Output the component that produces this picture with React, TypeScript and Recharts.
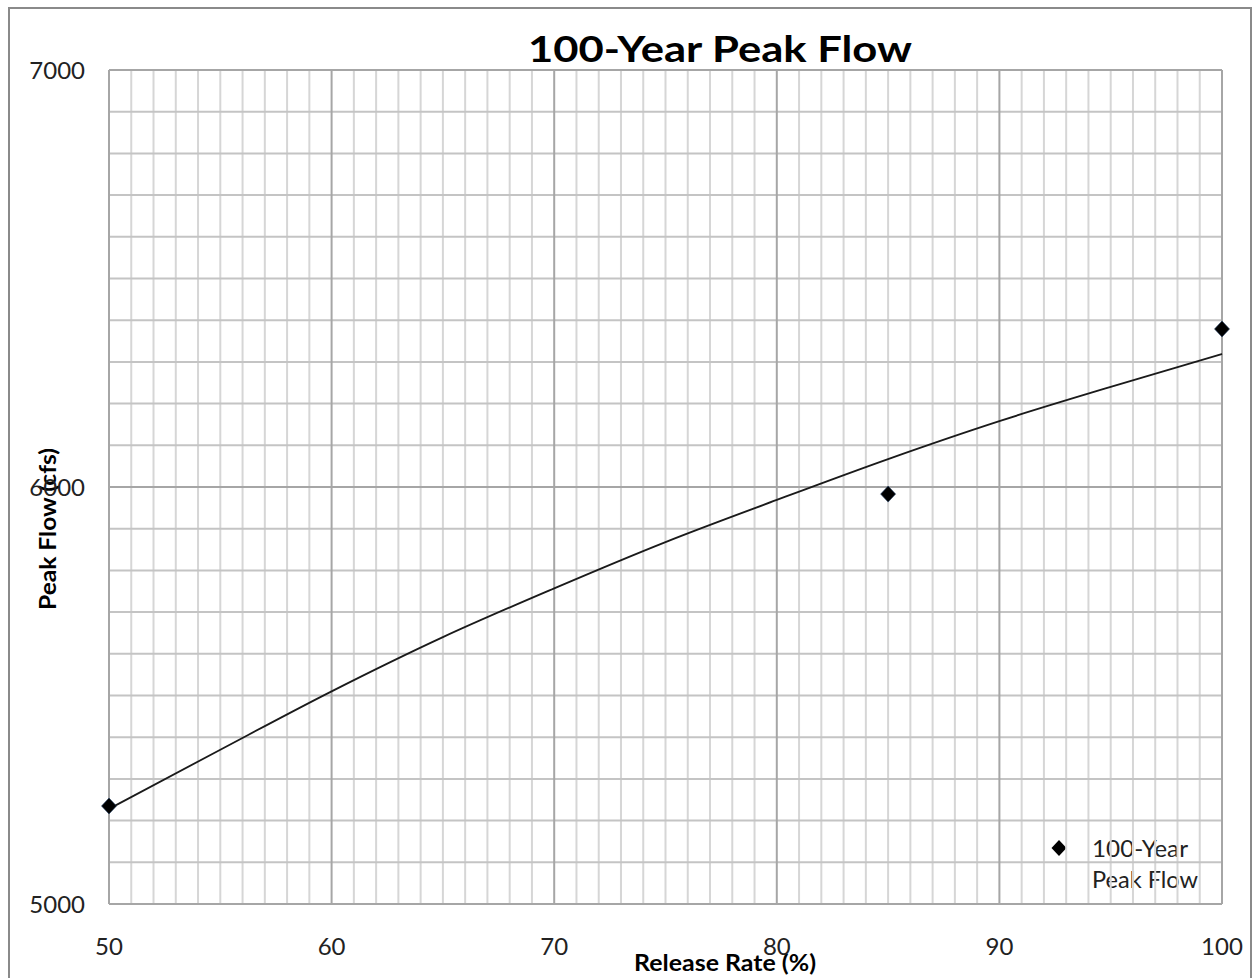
import React from 'react';
import { ComposedChart, XAxis, YAxis, Line, Scatter, ReferenceLine } from 'recharts';

// observed peak flows (cfs) at each release rate (%)
const releaseRate = [50, 85, 100];
const peakFlow = [5235, 5983, 6379];

// trendline
const trendRate = [50, 55, 60, 65, 70, 75, 80, 85, 90, 95, 100];
const trendFlow = [5228, 5370, 5510, 5640, 5757, 5868, 5969, 6067, 6158, 6240, 6319];

const xTicks = [50, 60, 70, 80, 90, 100];
const yTicks = [5000, 6000, 7000];

// grid every 1 % and every 100 cfs
const minorX = Array.from({ length: 51 }, (_, i) => 50 + i).filter((v) => v % 10 !== 0);
const minorY = Array.from({ length: 21 }, (_, i) => 5000 + i * 100).filter((v) => v % 1000 !== 0);

const pointData = releaseRate.map((x, i) => ({ x, y: peakFlow[i] }));
const trendData = trendRate.map((x, i) => ({ x, y: trendFlow[i] }));

const FONT = 'Lato, "Open Sans", sans-serif';

const Diamond = (props: any) => {
  const { cx, cy } = props;
  if (cx == null || cy == null) return null;
  return (
    <polygon
      points={`${cx},${cy - 8} ${cx + 7.5},${cy} ${cx},${cy + 8} ${cx - 7.5},${cy}`}
      fill="#000"
      stroke="#1f3a5f"
      strokeWidth={0.6}
    />
  );
};

export default function App() {
  return (
    <div style={{ position: 'absolute', left: 0, top: 0, width: 1257, height: 978, background: '#fff', overflow: 'hidden' }}>
      <div
        style={{
          position: 'absolute',
          left: 8,
          top: 7,
          width: 1244,
          height: 990,
          border: '2px solid #8a8a8a',
          boxSizing: 'border-box',
        }}
      />
      <ComposedChart
        width={1257}
        height={978}
        margin={{ top: 70, right: 35, bottom: 34, left: 49 }}
        style={{ position: 'absolute', left: 0, top: 0, fontFamily: FONT }}
      >
        {minorX.map((v) => (
          <ReferenceLine key={'mx' + v} x={v} stroke="#d6d6d6" strokeWidth={2} />
        ))}
        {minorY.map((v) => (
          <ReferenceLine key={'my' + v} y={v} stroke="#c4c4c4" strokeWidth={2} />
        ))}
        {xTicks.map((v) => (
          <ReferenceLine key={'Mx' + v} x={v} stroke="#a6a6a6" strokeWidth={2} />
        ))}
        {yTicks.map((v) => (
          <ReferenceLine key={'My' + v} y={v} stroke="#a6a6a6" strokeWidth={2} />
        ))}
        <XAxis
          type="number"
          dataKey="x"
          domain={[50, 100]}
          ticks={xTicks}
          axisLine={false}
          tickLine={false}
          tickSize={0}
          tickMargin={34}
          height={40}
          tick={{ fill: '#222', fontSize: 24, fontFamily: FONT }}
        />
        <YAxis
          type="number"
          domain={[5000, 7000]}
          ticks={yTicks}
          axisLine={false}
          tickLine={false}
          tickSize={0}
          tickMargin={24}
          width={60}
          tick={{ fill: '#222', fontSize: 24, fontFamily: FONT }}
        />
        <Line
          data={trendData}
          dataKey="y"
          type="monotone"
          stroke="#1a1a1a"
          strokeWidth={1.8}
          dot={false}
          activeDot={false}
          legendType="none"
          isAnimationActive={false}
        />
        <Scatter
          name="100-Year Peak Flow"
          data={pointData}
          dataKey="y"
          fill="#000"
          shape={Diamond}
          isAnimationActive={false}
        />
        <text
          x={720}
          y={62}
          textAnchor="middle"
          fontFamily={FONT}
          fontWeight={700}
          fontSize={37}
          fill="#000"
          textLength={384}
          lengthAdjust="spacingAndGlyphs"
        >
          100-Year Peak Flow
        </text>
        <text
          x={725}
          y={971}
          textAnchor="middle"
          fontFamily={FONT}
          fontWeight={700}
          fontSize={23}
          fill="#000"
          textLength={182}
          lengthAdjust="spacingAndGlyphs"
        >
          Release Rate (%)
        </text>
        <text
          x={56}
          y={529}
          textAnchor="middle"
          transform="rotate(-90 56 529)"
          fontFamily={FONT}
          fontWeight={700}
          fontSize={23}
          fill="#000"
          textLength={162}
          lengthAdjust="spacingAndGlyphs"
        >
          Peak Flow (cfs)
        </text>
        <g>
          <polygon points="1059,840 1066.5,848 1059,856 1051.5,848" fill="#000" />
          <text x={1092} y={857} fontFamily={FONT} fontSize={23} fill="#222" textLength={96} lengthAdjust="spacingAndGlyphs">
            100-Year
          </text>
          <text x={1092} y={888} fontFamily={FONT} fontSize={23} fill="#222" textLength={106} lengthAdjust="spacingAndGlyphs">
            Peak Flow
          </text>
        </g>
      </ComposedChart>
    </div>
  );
}
